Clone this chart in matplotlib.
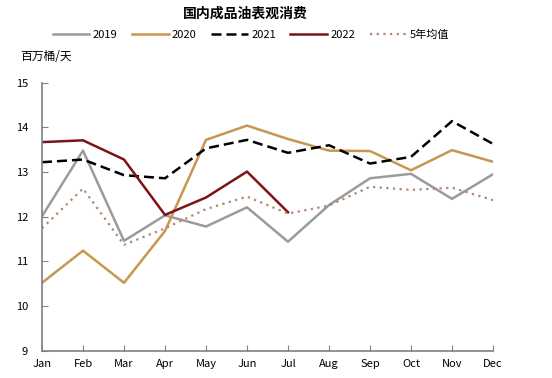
import numpy as np
import matplotlib.pyplot as plt

plt.rcParams['font.family'] = ['Noto Sans CJK SC', 'DejaVu Sans']

months = ["Jan", "Feb", "Mar", "Apr", "May", "Jun", "Jul", "Aug", "Sep", "Oct", "Nov", "Dec"]
y2019 = [12.01, 13.48, 11.46, 12.03, 11.78, 12.21, 11.44, 12.26, 12.86, 12.96, 12.40, 12.95]
y2020 = [10.52, 11.24, 10.52, 11.68, 13.72, 14.04, 13.74, 13.48, 13.47, 13.04, 13.49, 13.23]
y2021 = [13.22, 13.28, 12.93, 12.86, 13.53, 13.72, 13.43, 13.60, 13.19, 13.34, 14.14, 13.63]
y2022 = [13.67, 13.71, 13.28, 12.04, 12.43, 13.01, 12.10]
avg5 = [11.74, 12.63, 11.37, 11.74, 12.17, 12.45, 12.07, 12.25, 12.67, 12.60, 12.65, 12.37]

fig = plt.figure(figsize=(5.52, 3.78), dpi=100)
ax = fig.add_axes([0.0761, 0.0722, 0.817, 0.709])

x = np.arange(len(months))
ax.plot(x, y2019, color="#9b9b9b", lw=1.8, label="2019")
ax.plot(x, y2020, color="#c8964f", lw=1.8, label="2020")
ax.plot(x, y2021, color="black", lw=1.8, ls=(0, (4, 2)), label="2021")
ax.plot(x[:len(y2022)], y2022, color="#7b1416", lw=1.8, label="2022")
ax.plot(x, avg5, color="#b08870", lw=1.6, ls=(0, (1, 2)), label="5年均值")

ax.set_xlim(0, 11)
ax.set_ylim(9, 15)
ax.set_xticks(x)
ax.set_xticklabels(months)
ax.set_yticks(range(9, 16))
for s in ["top", "right"]:
    ax.spines[s].set_visible(False)
for s in ["left", "bottom"]:
    ax.spines[s].set_color("#808080")
    ax.spines[s].set_linewidth(1.2)
ax.tick_params(direction="in", length=4, color="#808080", labelsize=8, pad=6)
ax.tick_params(axis="y", pad=10)

fig.text(0.444, 1 - 14 / 378, "国内成品油表观消费", ha="center", va="center",
         fontsize=10, fontweight="bold")
fig.text(20 / 552, 1 - 57 / 378, "百万桶/天", ha="left", va="center", fontsize=8.5)
fig.legend(loc="center", bbox_to_anchor=(251 / 552, 1 - 35 / 378), ncol=5,
           frameon=False, fontsize=8, handlelength=3.3, columnspacing=1.3,
           handletextpad=0.3)

plt.savefig("out.png", dpi=100)
